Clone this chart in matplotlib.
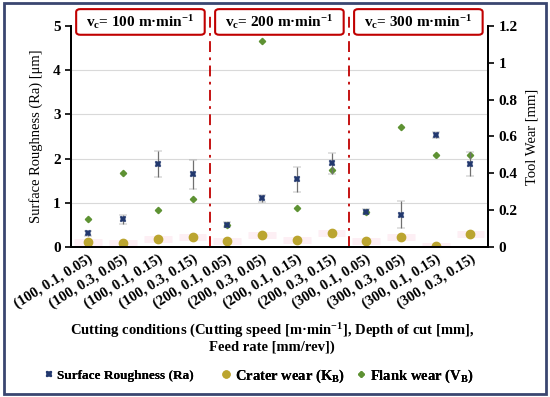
import matplotlib.pyplot as plt
import numpy as np
from matplotlib.patches import FancyBboxPatch, Rectangle
from matplotlib.lines import Line2D

conditions = ["(100, 0.1, 0.05)", "(100, 0.3, 0.05)", "(100, 0.1, 0.15)", "(100, 0.3, 0.15)",
              "(200, 0.1, 0.05)", "(200, 0.3, 0.05)", "(200, 0.1, 0.15)", "(200, 0.3, 0.15)",
              "(300, 0.1, 0.05)", "(300, 0.3, 0.05)", "(300, 0.1, 0.15)", "(300, 0.3, 0.15)"]
ra = [0.31, 0.63, 1.88, 1.64, 0.50, 1.10, 1.53, 1.89, 0.80, 0.73, 2.53, 1.88]
ra_err = [0.06, 0.10, 0.29, 0.33, 0.06, 0.08, 0.28, 0.23, 0.06, 0.30, 0.06, 0.27]
crater = [0.025, 0.020, 0.043, 0.053, 0.030, 0.065, 0.035, 0.078, 0.030, 0.053, 0.005, 0.069]
flank = [0.15, 0.40, 0.20, 0.26, 0.12, 1.12, 0.21, 0.42, 0.19, 0.65, 0.50, 0.50]
speeds = ["100", "200", "300"]

plt.rcParams['font.family'] = 'Liberation Serif'
plt.rcParams['mathtext.fontset'] = 'custom'
plt.rcParams['mathtext.rm'] = 'Liberation Serif'
plt.rcParams['mathtext.bf'] = 'Liberation Serif:bold'
plt.rcParams['mathtext.it'] = 'Liberation Serif:italic'

fig = plt.figure(figsize=(5.5, 3.97), dpi=100)
ax = fig.add_axes([0.129, 0.378, 0.758, 0.5567])
ax2 = ax.twinx()
x = np.arange(len(conditions))

c_ra = '#22386E'
c_cr = '#BBA530'
c_fl = '#5E9233'

# faint pink bands behind crater wear points
ax2.errorbar(x, crater, xerr=0.4, fmt='none', ecolor='#FDEFF4', elinewidth=5, capsize=0, zorder=1)
ax2.plot(x, crater, 'o', color=c_cr, ms=6, zorder=3)
ax2.plot(x, flank, 'D', color=c_fl, ms=3.2, zorder=4)
ax.errorbar(x, ra, yerr=ra_err, fmt='X', color=c_ra, ms=5, mew=0.3, ecolor='#707070', elinewidth=0.9,
            capsize=3, capthick=0.9, zorder=5)
ax.set_zorder(ax2.get_zorder() + 1)
ax.patch.set_visible(False)

ax.set_xlim(-0.5, len(conditions) - 0.5)
ax.set_ylim(0, 5)
ax2.set_ylim(0, 1.2)
ax.set_yticks(range(6))
ax2.set_yticks(np.arange(0, 1.21, 0.2))
ax2.set_yticklabels(['0', '0.2', '0.4', '0.6', '0.8', '1', '1.2'])
ax.set_xticks(x)
ax.set_xticklabels(conditions, rotation=32, ha='right', rotation_mode='anchor', fontsize=10.5, fontweight='bold')
ax.tick_params(axis='x', length=0, pad=4)
ax.tick_params(axis='y', labelsize=11, width=1.2, length=4)
ax2.tick_params(axis='y', labelsize=11, width=1.2, length=4)
for lab in ax.get_yticklabels() + ax2.get_yticklabels():
    lab.set_fontweight('bold')
ax.grid(axis='y', color='#D9D9D9', lw=0.8)
ax.yaxis.get_gridlines()[-1].set_visible(False)
ax.set_axisbelow(True)
for a in (ax, ax2):
    a.spines['top'].set_visible(False)
    for s in ('left', 'right', 'bottom'):
        a.spines[s].set_linewidth(1.4)

ax.set_ylabel('Surface Roughness (Ra) [μm]', fontsize=10.5, labelpad=7)
ax2.set_ylabel('Tool Wear [mm]', fontsize=10.5, labelpad=6)

# separators between cutting speed groups
for xs in (3.5, 7.5):
    ax.plot([xs, xs], [0, 5.3], color='#C00000', lw=1.3, ls=(0, (6, 3, 1.5, 3)), clip_on=False, zorder=2)

# cutting speed boxes
for i, v in enumerate(speeds):
    x0 = i * 4 - 0.35
    box = FancyBboxPatch((x0, 4.8), 3.7, 0.58, boxstyle='round,pad=0,rounding_size=0.12',
                         transform=ax.transData, fc='white', ec='#C00000', lw=1.5, clip_on=False,
                         mutation_aspect=0.55)
    ax.add_patch(box)
    ax.text(x0 + 1.85, 5.09, 'v$_\\mathbf{c}$= ' + v + ' m·min$^{\\mathbf{-1}}$', ha='center', va='center',
            fontsize=11, fontweight='bold', clip_on=False)

fig.text(0.495, 0.149, 'Cutting conditions (Cutting speed [m·min$^{\\mathbf{-1}}$], Depth of cut [mm],\nFeed rate [mm/rev])',
         ha='center', va='center', fontsize=10.5, fontweight='bold', linespacing=1.1)

# legend entries placed one by one, like the original
entries = [(Line2D([], [], ls='none', marker='X', color=c_ra, ms=5, mew=0.3), 'Surface Roughness (Ra)', 9.5, 0.078),
           (Line2D([], [], ls='none', marker='o', color=c_cr, ms=5), 'Crater wear (K$_\\mathbf{B}$)', 10.5, 0.398),
           (Line2D([], [], ls='none', marker='D', color=c_fl, ms=3), 'Flank wear (V$_\\mathbf{B}$)', 10.5, 0.643)]
for h, lab, fs, xl in entries:
    leg = fig.legend([h], [lab], loc='center left', bbox_to_anchor=(xl, 0.053), frameon=False,
                     fontsize=fs, handletextpad=0.1, handlelength=1.0, borderaxespad=0, borderpad=0)
    leg.get_texts()[0].set_fontweight('bold')
    fig.add_artist(leg)

fig.patches.append(Rectangle((0.007, 0.008), 0.986, 0.984, transform=fig.transFigure, fill=False,
                             ec='#3A4670', lw=2))

fig.savefig('out.png', dpi=100)
